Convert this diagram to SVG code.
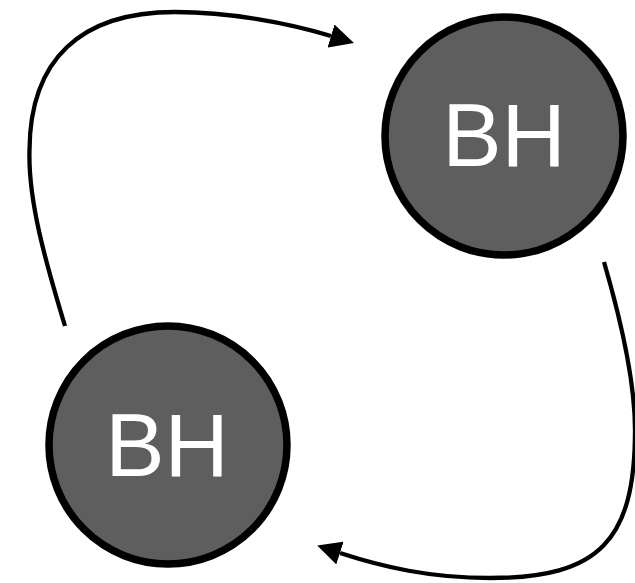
<svg xmlns="http://www.w3.org/2000/svg" width="635" height="583" viewBox="0 0 635 583">
  <style>
    .node { fill: #5e5e5e; stroke: #000; stroke-width: 7.5; }
    .label { fill: #fff; font-family: "Liberation Sans", Arial, sans-serif; font-size: 89px; text-anchor: middle; }
    .edge { fill: none; stroke: #000; stroke-width: 4.3; marker-end: url(#arrow); }
  </style>
  <defs>
    <marker id="arrow" markerUnits="userSpaceOnUse" viewBox="0 0 24 24" refX="0" refY="12" markerWidth="24" markerHeight="24" orient="auto">
      <path d="M0,0 L24,12 L0,24 z" fill="#000"/>
    </marker>
  </defs>
  <g id="connectors">
    <path class="edge" d="M65,326 C45,260 28,200 29.5,150 C30,60 80,12 175,12 C230,12 288,23 331,36"/>
    <path class="edge" d="M604,262 C618,310 635,380 635,430 C635,540 600,578 490,578 C430,578 383,567 340,553"/>
  </g>
  <g id="bh-top">
    <circle class="node" cx="504" cy="136" r="119"/>
    <text class="label" x="504" y="166">BH</text>
  </g>
  <g id="bh-bottom">
    <circle class="node" cx="168" cy="445" r="119"/>
    <text class="label" x="167" y="476">BH</text>
  </g>
</svg>
